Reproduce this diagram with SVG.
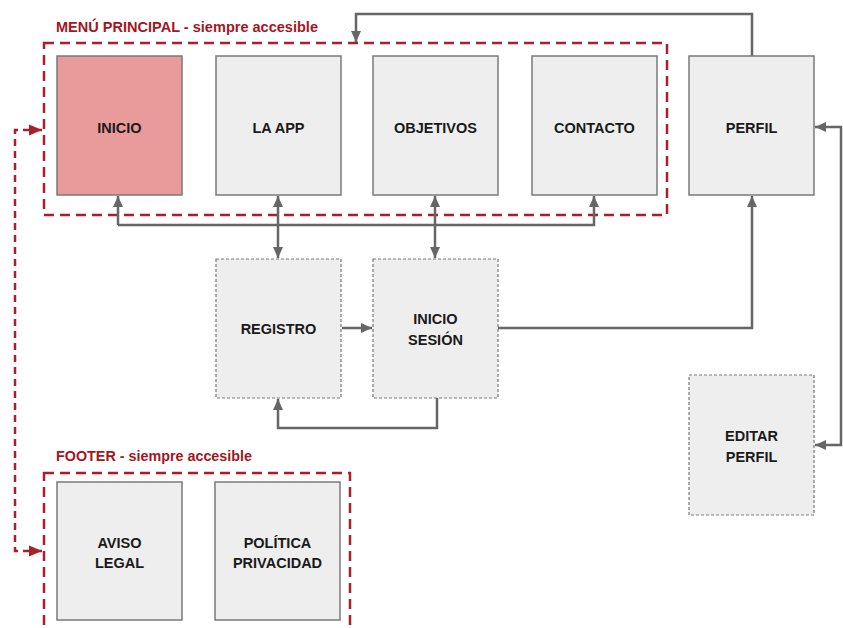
<svg xmlns="http://www.w3.org/2000/svg" width="843" height="628" viewBox="0 0 843 628">
<style>
.box{fill:#eeeeee;stroke:#7a7a7a;stroke-width:1.5}
.dbox{fill:#eeeeee;stroke:#7a7a7a;stroke-width:1.2;stroke-dasharray:3 2}
.lbl{font-family:"Liberation Sans",Arial,sans-serif;font-weight:bold;font-size:14.5px;fill:#1a1a1a;text-anchor:middle}
.title{font-family:"Liberation Sans",Arial,sans-serif;font-weight:bold;font-size:15px;fill:#a3161f}
.grp{fill:none;stroke:#a8202a;stroke-width:2.5;stroke-dasharray:10 6}
.con{fill:none;stroke:#666666;stroke-width:2.5}
.rcon{fill:none;stroke:#a8202a;stroke-width:2.5;stroke-dasharray:7 5}
</style>
<defs>
<marker id="ah" markerUnits="userSpaceOnUse" markerWidth="12" markerHeight="12" viewBox="0 0 12 12" refX="11" refY="6" orient="auto-start-reverse">
<path d="M0,1 L11,6 L0,11 Z" fill="#666666"/>
</marker>
<marker id="rah" markerUnits="userSpaceOnUse" markerWidth="14" markerHeight="14" viewBox="0 0 14 14" refX="13" refY="7" orient="auto-start-reverse">
<path d="M0,1.5 L13,7 L0,12.5 Z" fill="#a8202a"/>
</marker>
</defs>
<rect width="843" height="628" fill="#ffffff"/>

<g id="menu-group">
<rect class="grp" x="44" y="43" width="623" height="172"/>
<text class="title" x="56" y="32" textLength="262" lengthAdjust="spacingAndGlyphs">MENÚ PRINCIPAL - siempre accesible</text>
</g>
<g id="footer-group">
<rect class="grp" x="44" y="473" width="306" height="170"/>
<text class="title" x="56" y="461" textLength="196" lengthAdjust="spacingAndGlyphs">FOOTER - siempre accesible</text>
</g>

<g id="connectors">
<path class="con" d="M752,56 V14 H356 V42" marker-end="url(#ah)"/>
<path class="con" d="M118,225 V196" marker-end="url(#ah)"/>
<path class="con" d="M118,225 H594 V196" marker-end="url(#ah)"/>
<path class="con" d="M278,196 V258" marker-start="url(#ah)" marker-end="url(#ah)"/>
<path class="con" d="M435,196 V258" marker-start="url(#ah)" marker-end="url(#ah)"/>
<path class="con" d="M342,328 H372" marker-end="url(#ah)"/>
<path class="con" d="M437,398 V428 H278 V399" marker-end="url(#ah)"/>
<path class="con" d="M498,328 H752 V196" marker-end="url(#ah)"/>
<path class="con" d="M815,127 H841 V445 H815" marker-start="url(#ah)" marker-end="url(#ah)"/>
<path class="rcon" d="M42,130 H15 V551 H42" marker-start="url(#rah)" marker-end="url(#rah)"/>
</g>

<g id="inicio"><rect class="box" x="57" y="56" width="125" height="139" style="fill:#e99a9b"/><text class="lbl" x="119.5" y="133">INICIO</text></g>
<g id="laapp"><rect class="box" x="216" y="56" width="125" height="139"/><text class="lbl" x="278.5" y="133">LA APP</text></g>
<g id="objetivos"><rect class="box" x="373" y="56" width="125" height="139"/><text class="lbl" x="435.5" y="133">OBJETIVOS</text></g>
<g id="contacto"><rect class="box" x="532" y="56" width="125" height="139"/><text class="lbl" x="594.5" y="133">CONTACTO</text></g>
<g id="perfil"><rect class="box" x="689" y="56" width="125" height="139"/><text class="lbl" x="751.5" y="133">PERFIL</text></g>

<g id="registro"><rect class="dbox" x="216" y="259" width="125" height="139"/><text class="lbl" x="278.5" y="334">REGISTRO</text></g>
<g id="iniciosesion"><rect class="dbox" x="373" y="259" width="125" height="139"/><text class="lbl" x="435.5" y="324">INICIO</text><text class="lbl" x="435.5" y="345">SESIÓN</text></g>
<g id="editarperfil"><rect class="dbox" x="689" y="375" width="125" height="140"/><text class="lbl" x="751.5" y="441">EDITAR</text><text class="lbl" x="751.5" y="462">PERFIL</text></g>

<g id="avisolegal"><rect class="box" x="57" y="482" width="125" height="138"/><text class="lbl" x="119.5" y="548">AVISO</text><text class="lbl" x="119.5" y="568">LEGAL</text></g>
<g id="politica"><rect class="box" x="215" y="482" width="125" height="138"/><text class="lbl" x="277.5" y="548">POLÍTICA</text><text class="lbl" x="277.5" y="568">PRIVACIDAD</text></g>
</svg>
